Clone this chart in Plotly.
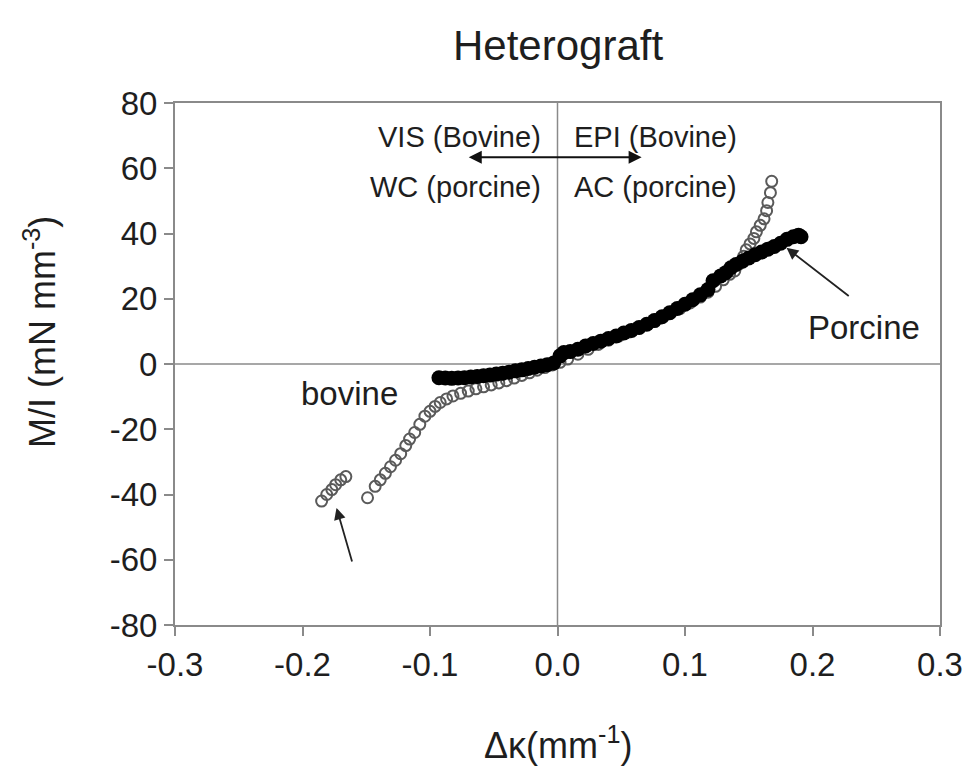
import plotly.graph_objects as go

# Bovine (open circles)
bovine_x = [-0.185, -0.181, -0.177, -0.174, -0.170, -0.166,
            -0.149, -0.143, -0.139, -0.135, -0.131, -0.127, -0.123, -0.119, -0.116, -0.112,
            -0.108, -0.104, -0.100, -0.096, -0.092, -0.087, -0.082, -0.076, -0.070, -0.064,
            -0.058, -0.052, -0.046, -0.040, -0.034, -0.028, -0.022, -0.016, -0.010, -0.004,
            0.002, 0.008, 0.016, 0.024, 0.032, 0.040, 0.048, 0.056, 0.064, 0.072, 0.080,
            0.088, 0.096, 0.104, 0.112, 0.118, 0.124, 0.130, 0.135, 0.139, 0.142, 0.146,
            0.148, 0.151, 0.154, 0.156, 0.159, 0.162, 0.164, 0.165, 0.167, 0.168]
bovine_y = [-42.0, -40.0, -38.5, -37.0, -35.5, -34.5,
            -41.0, -37.5, -35.5, -33.5, -31.5, -29.5, -27.5, -25.0, -23.0, -21.0,
            -18.5, -16.0, -14.5, -13.0, -11.8, -10.7, -9.8, -9.0, -8.3, -7.6,
            -7.0, -6.4, -5.8, -5.1, -4.3, -3.5, -2.7, -1.9, -1.1, -0.3,
            0.5, 1.5, 3.0, 4.5, 6.0, 7.3, 8.5, 9.8, 11.0, 12.5, 14.0,
            15.5, 17.0, 18.7, 20.5, 22.0, 23.8, 25.8, 27.5, 28.5, 30.5, 33.0,
            35.0, 36.8, 38.5, 40.5, 42.5, 44.5, 47.0, 49.5, 52.5, 56.0]

# Porcine (filled circles)
porcine_x = [-0.093, -0.088, -0.083, -0.078, -0.073, -0.068, -0.063, -0.058, -0.053, -0.048,
             -0.043, -0.038, -0.033, -0.028, -0.023, -0.018, -0.013, -0.008, -0.003, 0.002,
             0.005, 0.010, 0.016, 0.022, 0.028, 0.034, 0.040, 0.046, 0.052, 0.058,
             0.064, 0.070, 0.076, 0.082, 0.088, 0.094, 0.100, 0.106, 0.112, 0.118,
             0.122, 0.128, 0.132, 0.136, 0.140, 0.145, 0.150, 0.155, 0.160, 0.165,
             0.170, 0.175, 0.180, 0.185, 0.189, 0.191]
porcine_y = [-4.2, -4.3, -4.4, -4.3, -4.2, -4.0, -3.8, -3.6, -3.4, -3.1,
             -2.8, -2.5, -2.1, -1.8, -1.4, -1.0, -0.6, -0.2, 0.3, 2.5,
             3.5, 3.8, 4.5, 5.5, 6.3, 7.0, 7.8, 8.6, 9.5, 10.3,
             11.2, 12.2, 13.3, 14.5, 15.7, 17.0, 18.3, 19.7, 21.2, 22.8,
             25.5, 27.0, 28.0, 29.5, 30.5, 31.5, 32.5, 33.5, 34.3, 35.2,
             36.0, 37.0, 38.2, 39.0, 39.5, 39.0]

x_ticks = [-0.3, -0.2, -0.1, 0.0, 0.1, 0.2, 0.3]
x_tick_labels = ["-0.3", "-0.2", "-0.1", "0.0", "0.1", "0.2", "0.3"]
y_ticks = [-80, -60, -40, -20, 0, 20, 40, 60, 80]
y_tick_labels = ["-80", "-60", "-40", "-20", "0", "20", "40", "60", "80"]

FONT = "Liberation Sans, Arial, sans-serif"
TXT = "#1e1e1e"
AX = "#8a8a8a"

fig = go.Figure()
fig.add_trace(go.Scatter(x=bovine_x, y=bovine_y, mode="markers", name="bovine",
                         marker=dict(symbol="circle-open", size=11, color="#5a5a5a",
                                     line=dict(width=2, color="#5a5a5a"))))
fig.add_trace(go.Scatter(x=porcine_x, y=porcine_y, mode="markers", name="porcine",
                         marker=dict(symbol="circle", size=15, color="black")))

# zero lines
fig.add_shape(type="line", x0=0, x1=0, y0=-80, y1=80, xref="x", yref="y",
              line=dict(color=AX, width=1.5), layer="below")
fig.add_shape(type="line", x0=-0.3, x1=0.3, y0=0, y1=0, xref="x", yref="y",
              line=dict(color=AX, width=1.5), layer="below")

fig.update_layout(
    width=975, height=769,
    margin=dict(l=175, r=33, t=103, b=144),
    paper_bgcolor="white", plot_bgcolor="white",
    showlegend=False,
    font=dict(family=FONT, color=TXT),
    xaxis=dict(range=[-0.3, 0.3], tickvals=x_ticks, ticktext=x_tick_labels,
               showgrid=False, zeroline=False, showline=True, mirror=True,
               linecolor=AX, linewidth=2, ticks="outside", ticklen=9, tickwidth=1.5,
               tickcolor=AX, tickfont=dict(size=33, color=TXT), fixedrange=True),
    yaxis=dict(range=[-80, 80], tickvals=y_ticks, ticktext=y_tick_labels,
               showgrid=False, zeroline=False, showline=True, mirror=True,
               linecolor=AX, linewidth=2, ticks="outside", ticklen=9, tickwidth=1.5,
               tickcolor=AX, tickfont=dict(size=33, color=TXT), fixedrange=True),
)

ann = []
# title
ann.append(dict(text="Heterograft", xref="paper", yref="paper", x=0.5, y=1,
                yshift=58, showarrow=False, font=dict(size=42, color=TXT),
                xanchor="center", yanchor="middle"))
# axis titles
ann.append(dict(text="M/I (mN mm<sup>-3</sup>)", xref="paper", yref="paper",
                x=0, xshift=-135, y=0.5, yshift=32, textangle=-90, showarrow=False,
                font=dict(size=36, color=TXT), xanchor="center", yanchor="middle"))
ann.append(dict(text="\u0394\u03ba(mm<sup>-1</sup>)", xref="paper", yref="paper",
                x=0.5, y=0, yshift=-118, showarrow=False,
                font=dict(size=36, color=TXT), xanchor="center", yanchor="middle"))
# labels
lab = dict(size=29, color=TXT)
ann.append(dict(text="VIS (Bovine)", x=-0.011, y=69.5, xanchor="right", yanchor="middle",
                showarrow=False, font=lab))
ann.append(dict(text="EPI (Bovine)", x=0.011, y=69.5, xanchor="left", yanchor="middle",
                showarrow=False, font=lab))
ann.append(dict(text="WC (porcine)", x=-0.011, y=54.3, xanchor="right", yanchor="middle",
                showarrow=False, font=lab))
ann.append(dict(text="AC (porcine)", x=0.011, y=54.3, xanchor="left", yanchor="middle",
                showarrow=False, font=lab))
ann.append(dict(text="bovine", x=-0.163, y=-8.9, xanchor="center", yanchor="middle",
                showarrow=False, font=dict(size=33, color=TXT)))
ann.append(dict(text="Porcine", x=0.240, y=11.3, xanchor="center", yanchor="middle",
                showarrow=False, font=dict(size=33, color=TXT)))
# arrows
ann.append(dict(text="", x=0.066, y=63.4, ax=-0.0708, ay=63.4, axref="x", ayref="y",
                showarrow=True, arrowhead=2, arrowside="end+start", arrowsize=1.3,
                arrowwidth=2, arrowcolor="#111111"))
ann.append(dict(text="", x=0.1796, y=35.6, ax=0.2296, ay=20.5, axref="x", ayref="y",
                showarrow=True, arrowhead=2, arrowsize=1.3, arrowwidth=1.8,
                arrowcolor="#222222"))
ann.append(dict(text="", x=-0.1733, y=-44.1, ax=-0.1608, ay=-61.0, axref="x", ayref="y",
                showarrow=True, arrowhead=2, arrowsize=1.3, arrowwidth=1.8,
                arrowcolor="#222222"))
fig.update_layout(annotations=ann)

fig.write_html("out.html")
